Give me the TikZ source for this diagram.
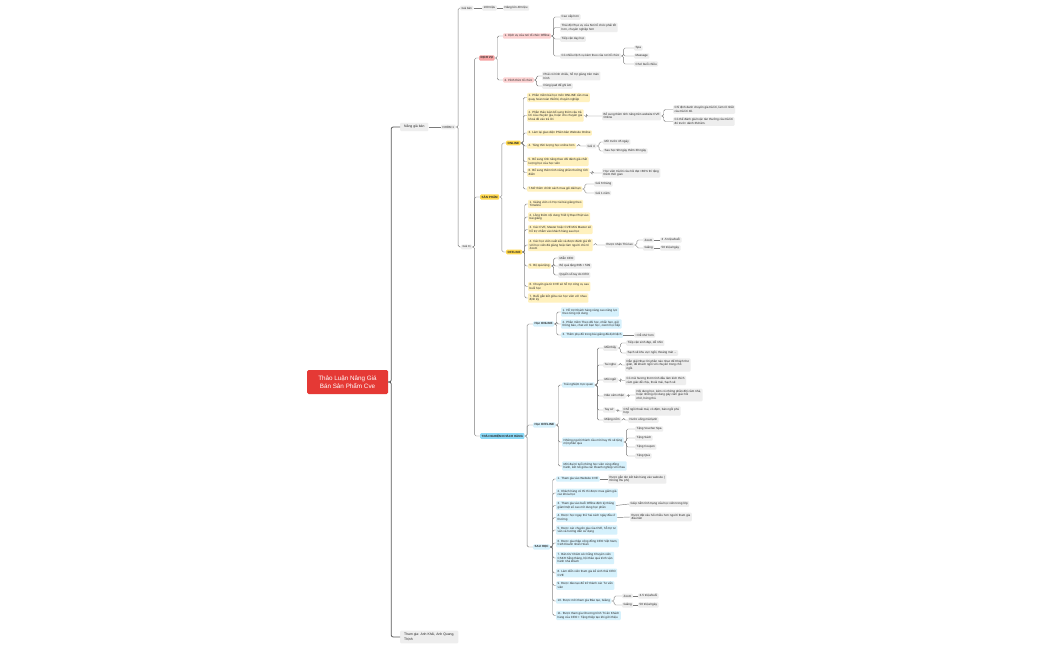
\documentclass[tikz,border=0pt]{standalone}
\usepackage{fontspec}
\setmainfont{Liberation Sans}
\definecolor{rootred}{HTML}{E53935}
\definecolor{pinkh}{HTML}{F6A3A3}
\definecolor{pinkl}{HTML}{FCD2D2}
\definecolor{goldh}{HTML}{FFD84D}
\definecolor{yell}{HTML}{FFF1BE}
\definecolor{cyanh}{HTML}{8BD9F7}
\definecolor{bluel}{HTML}{D6F1FC}
\definecolor{leafgray}{HTML}{EEEEEE}
\definecolor{linegray}{HTML}{7A7A7A}
\newcommand{\mmconn}[2]{\draw[cl] (#1.east) -- ++(2.5,0) |- (#2.west);}
\tikzset{
  base/.style={rounded corners=1pt, inner xsep=1.5pt, inner ysep=1.3pt,
    font=\fontsize{3}{3.6}\selectfont, anchor=west, align=left, text=black!85},
  gr/.style={base, fill=leafgray},
  yl/.style={base, fill=yell},
  yh/.style={base, fill=goldh, font=\fontsize{3}{3.6}\selectfont\bfseries},
  bl/.style={base, fill=bluel},
  blh/.style={base, fill=bluel, font=\fontsize{3}{3.6}\selectfont\bfseries},
  bh/.style={base, fill=cyanh, font=\fontsize{3}{3.6}\selectfont\bfseries},
  pk/.style={base, fill=pinkl},
  ph/.style={base, fill=pinkh, font=\fontsize{3}{3.6}\selectfont\bfseries},
  mainbox/.style={base, fill=leafgray, inner xsep=4pt, inner ysep=2.6pt,
    font=\fontsize{3.4}{4.3}\selectfont},
  tag/.style={base, fill=leafgray, inner xsep=1.5pt, inner ysep=1.2pt,
    font=\fontsize{2.9}{3.5}\selectfont},
  rootbox/.style={rounded corners=1.5pt, fill=rootred, text=white, align=center,
    minimum width=81pt, minimum height=24pt, inner sep=2pt,
    font=\fontsize{6.3}{8.2}\selectfont},
  cl/.style={draw=linegray, line width=0.45pt, rounded corners=1.5pt},
  clroot/.style={draw=black!65, line width=0.8pt, rounded corners=2pt},
}
\begin{document}
\begin{tikzpicture}[x=1pt,y=-1pt]
\fill[white] (0,0) rectangle (1050,650);
\useasboundingbox (0,0) rectangle (1050,650);

% root and main topics
\node[rootbox] (root) at (347.5,382) {Thảo Luận Nâng Giá\\Bán Sản Phẩm Cve};
\node[mainbox] (ngb) at (400,127) {Nâng giá bán};
\node[mainbox] (tg) at (400,637) {Tham gia: Anh Khải, Anh Quang,\\Thịnh};
\draw[clroot] (root.east) -- ++(3,0) |- (ngb.west);
\draw[clroot] (root.east) -- ++(3,0) |- (tg.west);

\node[tag] (nhom) at (441,127) {NHÓM 1};
\draw[cl] (ngb.east) -- (nhom.west);
\node[tag] (giaban) at (460,8) {Giá bán};
\node[gr] (tr100) at (482,8) {100 triệu};
\node[gr] (tr40) at (503,8) {Nâng lên 40 triệu};
\node[tag] (giatri) at (461,247) {Giá trị};
\mmconn{nhom}{giaban}
\mmconn{nhom}{giatri}
\draw[cl] (giaban.east) -- (tr100.west);
\draw[cl] (tr100.east) -- (tr40.west);

\node[ph] (dv) at (479,58) {DỊCH VỤ};
\node[yh] (sp) at (480,197) {SẢN PHẨM};
\node[bh] (tn) at (480,436) {TRẢI NGHIỆM KHÁCH HÀNG};
\mmconn{giatri}{dv}
\mmconn{giatri}{sp}
\mmconn{giatri}{tn}

% DICH VU
\node[pk] (dv1) at (503,36) {1. Dịch vụ của nơi tổ chức Offline};
\node[pk] (dv2) at (503,80) {2. Hình thức tổ chức};
\mmconn{dv}{dv1}
\mmconn{dv}{dv2}
\node[gr] (dv1a) at (560,17) {Cao cấp hơn};
\node[gr] (dv1b) at (560,27.5) {Thái độ Phục vụ của Nơi tổ chức phải tốt\\hơn, chuyên nghiệp hơn};
\node[gr] (dv1c) at (560,39) {Tiếp cận dạy học};
\node[gr] (dv1d) at (560,56) {Có nhiều Dịch vụ kèm theo của nơi tổ chức};
\foreach \c in {dv1a,dv1b,dv1c,dv1d}{\mmconn{dv1}{\c}}
\node[gr] (spa) at (634,48) {Spa};
\node[gr] (mas) at (634,56) {Massage};
\node[gr] (choi) at (634,64) {Chơi buổi chiều};
\foreach \c in {spa,mas,choi}{\mmconn{dv1d}{\c}}
\node[gr] (dv2a) at (542,76) {Phải có hình chiếu, hỗ trợ giảng trên màn\\hình};
\node[gr] (dv2b) at (542,86) {Dùng ipad để ghi âm};
\mmconn{dv2}{dv2a}
\mmconn{dv2}{dv2b}

% SAN PHAM
\node[yh] (on) at (506,143) {ONLINE};
\node[yh] (off) at (506,252) {OFFLINE};
\mmconn{sp}{on}
\mmconn{sp}{off}

\node[yl] (on1) at (527,97.5) {1. Phần mềm bài học môn ONLINE cần mua\\quay hoàn toàn thiết bị chuyên nghiệp};
\node[yl] (on2) at (527,115.5) {2. Phần thảo luận bổ sung thêm câu trả\\lời của chuyên gia, hoặc cho chuyên gia\\khoá đề vào trả lời};
\node[yl] (on3) at (527,133) {3. Làm lại giao diện Phiên bản Website Online};
\node[yl] (on4) at (527,146) {4. Tăng thời lượng học online hơn};
\node[yl] (on5) at (527,161.5) {5. Bổ sung tính năng theo dõi đánh giá chất\\lượng học của học viên};
\node[yl] (on6) at (527,172.5) {6. Bổ sung thêm tính năng phần thưởng tích\\điểm};
\node[yl] (on7) at (527,189) {7.Mở thêm chính sách mua gói dài hạn};
\foreach \c in {on1,on2,on3,on4,on5,on6,on7}{\mmconn{on}{\c}}
\node[gr] (on2a) at (602,116) {Bổ sung thêm tính năng trên website CVE\\Online};
\mmconn{on2}{on2a}
\node[gr] (on2a1) at (673,109.5) {Chỉ định danh chuyên gia trả lời, làm rõ nhất\\câu trả lời đó.};
\node[gr] (on2a2) at (673,121.5) {Có thể đánh giá hoặc tán thưởng câu trả lời\\đó trước dành 3h/năm.};
\mmconn{on2a}{on2a1}
\mmconn{on2a}{on2a2}
\node[gr] (on4a) at (586,146) {Gói 4};
\mmconn{on4}{on4a}
\node[gr] (on4a1) at (603,142) {Mở trước 45 ngày};
\node[gr] (on4a2) at (603,151) {Sau học 90 ngày thêm 30 ngày};
\mmconn{on4a}{on4a1}
\mmconn{on4a}{on4a2}
\node[gr] (on6a) at (602,173) {Học viên trả lời câu hỏi đạt >80\% thì tặng\\thêm thời gian};
\mmconn{on6}{on6a}
\node[gr] (on7a) at (594,184) {Gói 6 tháng};
\node[gr] (on7b) at (594,193) {Gói 1 năm};
\mmconn{on7}{on7a}
\mmconn{on7}{on7b}

\node[yl] (of1) at (528,204) {1. Giảng viên có Học tài bài giảng theo\\Timeline};
\node[yl] (of2) at (528,217) {2. Lồng thêm nội dung Triết lý Đạo Phật vào\\bài giảng};
\node[yl] (of3) at (528,229.5) {3. Các CVE, Master hoặc CVE Mini Master sẽ\\hỗ trợ nhắm vào khách hàng sau học};
\node[yl] (of4) at (528,245) {4. Các học viên xuất sắc và được đánh giá tốt\\với học viên đã giảng hoặc làm người chủ trì\\Zoom};
\node[yl] (of5) at (528,266) {5. Bộ quà tặng};
\node[yl] (of6) at (528,286.5) {6. Chuyên gia từ CVE sẽ hỗ trợ công cụ sau\\buổi học};
\node[yl] (of7) at (528,298) {7. Buổi gắn kết giữa các học viên với nhau\\định kỳ};
\foreach \c in {of1,of2,of3,of4,of5,of6,of7}{\mmconn{off}{\c}}
\node[gr] (of4a) at (605,245) {Được nhận Thù lao};
\mmconn{of4}{of4a}
\node[gr] (ofz) at (643,240) {Zoom};
\node[gr] (ofg) at (643,248) {Giảng};
\mmconn{of4a}{ofz}
\mmconn{of4a}{ofg}
\node[gr] (ofz1) at (660,240) {3 -5 triệu/buổi};
\node[gr] (ofg1) at (660,248) {50 triệu/ngày};
\draw[cl] (ofz.east) -- (ofz1.west);
\draw[cl] (ofg.east) -- (ofg1.west);
\node[gr] (of5a) at (558,258) {Miễn CEO};
\node[gr] (of5b) at (558,266) {Bộ quà tặng 69\$ + 50\$};
\node[gr] (of5c) at (558,275) {Quyển sổ tay do CEO};
\foreach \c in {of5a,of5b,of5c}{\mmconn{of5}{\c}}

% TRAI NGHIEM
\node[blh] (hon) at (533,324) {Học ONLINE};
\node[blh] (hoff) at (533,425) {Học OFFLINE};
\node[blh] (sau) at (533,547) {SAU HỌC};
\mmconn{tn}{hon}
\mmconn{tn}{hoff}
\mmconn{tn}{sau}

\node[bl] (ho1) at (561,312) {1. Hỗ trợ Khách hàng nâng cao năng lực\\theo từng nội dung};
\node[bl] (ho2) at (561,324) {2. Phần mềm Theo dõi học, nhắc hẹn, gửi\\thông báo, chat với bạn học, zoom học tiếp};
\node[bl] (ho3) at (561,335) {3. Thêm phụ đề trong bài giảng đã dịch/dịch};
\foreach \c in {ho1,ho2,ho3}{\mmconn{hon}{\c}}
\node[gr] (ho3a) at (634,335) {• Dễ nhớ hơn};
\draw[cl] (ho3.east) -- (ho3a.west);

\node[bl] (hf1) at (562,385) {Trải nghiệm trực quan};
\node[bl] (hf2) at (562,442) {Những người thành cầu mời hay thì sẽ tặng\\một phần quà};
\node[bl] (hf3) at (562,466) {Mời đại tri tuổi những học viên cùng đồng\\hành, kết nối giữa các Doanh nghiệp với nhau};
\foreach \c in {hf1,hf2,hf3}{\mmconn{hoff}{\c}}

\node[gr] (mat) at (603,348) {Mắt thấy};
\node[gr] (tai) at (603,365) {Tai nghe};
\node[gr] (mui) at (603,380) {Mũi ngửi};
\node[gr] (nao) at (603,396) {Não cảm nhận};
\node[gr] (tay) at (603,410) {Tay sờ};
\node[gr] (mieng) at (603,420) {Miệng nếm};
\foreach \c in {mat,tai,mui,nao,tay,mieng}{\mmconn{hf1}{\c}}
\node[gr] (mat1) at (626,343) {Tiếp cận sinh đẹp, dễ nhìn};
\node[gr] (mat2) at (626,353) {Sạch sẽ khu vực ngồi, thoáng mát ...};
\mmconn{mat}{mat1}
\mmconn{mat}{mat2}
\node[gr] (tai1) at (625,365) {Dẫn giải Nhạc lời phần nào nhạc để Khách thư\\giãn, để khách ngồi với chuyên trong chỗ\\ngồi.};
\mmconn{tai}{tai1}
\node[gr] (mui1) at (625,380.5) {Có mùi hương thơm tinh dầu làm kích thích\\cảm giác dễ chịu, thoải mái, Sạch sẽ};
\mmconn{mui}{mui1}
\node[gr] (nao1) at (635,395) {Nội dung học, kèm có những phần đời cảm nhà,\\hoặc những nội dung gây cảm giác hồi\\nhớ, hứng thú.};
\mmconn{nao}{nao1}
\node[gr] (tay1) at (622,411) {Chỗ ngồi thoải mái, có đệm, bàn ngồi phù\\hợp};
\mmconn{tay}{tay1}
\node[gr] (mieng1) at (628,420) {Nước uống mát lạnh};
\mmconn{mieng}{mieng1}

\node[gr] (q1) at (635,429) {Tặng Voucher Spa};
\node[gr] (q2) at (635,438) {Tặng Sách};
\node[gr] (q3) at (635,447) {Tặng Coupon};
\node[gr] (q4) at (635,456) {Tặng Quà};
\foreach \c in {q1,q2,q3,q4}{\mmconn{hf2}{\c}}

\node[bl] (s1) at (556,479) {1. Tham gia vào Website CVE};
\node[bl] (s2) at (556,493) {2. Khách hàng cũ thì thì được mua giảm giá\\các khóa học};
\node[bl] (s3) at (556,505.5) {3. Tham gia vào buổi Offline định kỳ thăng\\giảm/một số cao mở dung học phần};
\node[bl] (s4) at (556,517.5) {4. Được học ngay thử hai cách ngày đầu ở\\thường};
\node[bl] (s5) at (556,530) {5. Được các chuyên gia của CVE, hỗ trợ tư\\vấn và hướng dẫn sử dụng};
\node[bl] (s6) at (556,543) {6. Được gia nhập cộng đồng CEO Việt Nam,\\CLB Doanh nhân Hoàn};
\node[bl] (s7) at (556,558) {7. Bản tin/ Chăm sóc hằng Chuyên viên\\CSKH hằng tháng, hội thảo quá trình vận\\hành nhà khách};
\node[bl] (s8) at (556,573) {8. Làm diễn viên tham gia kể sinh thái CEO\\CVE};
\node[bl] (s9) at (556,585.5) {9. Được đào tạo để trở thành các Tư vấn\\viên};
\node[bl] (s10) at (556,601) {10. Được mời tham gia Đào tạo, Giảng};
\node[bl] (s11) at (556,615.5) {11. Được tham gia Chương trình Tri ân Khách\\hàng của CEO + Tặng thiệp tạo khi giới thiệu};
\foreach \c in {s1,s2,s3,s4,s5,s6,s7,s8,s9,s10,s11}{\mmconn{sau}{\c}}
\node[gr] (s1a) at (608,479) {Được gắn tên kết bản hàng vào website (\\Không thu phí)};
\draw[cl] (s1.east) -- (s1a.west);
\node[gr] (s3a) at (629,504) {Giúp nắm tình trạng của học viên trong lớp};
\draw[cl] (s3.east) -- (s3a.west);
\node[gr] (s4a) at (630,517) {Được đặt câu hỏi nhiều hơn người tham gia\\đầu tiên};
\draw[cl] (s4.east) -- (s4a.west);
\node[gr] (sz) at (622,596) {Zoom};
\node[gr] (sg) at (622,605) {Giảng};
\mmconn{s10}{sz}
\mmconn{s10}{sg}
\node[gr] (sz1) at (638,596) {3-5 triệu/buổi};
\node[gr] (sg1) at (638,605) {50 triệu/ngày};
\draw[cl] (sz.east) -- (sz1.west);
\draw[cl] (sg.east) -- (sg1.west);
\end{tikzpicture}
\end{document}
